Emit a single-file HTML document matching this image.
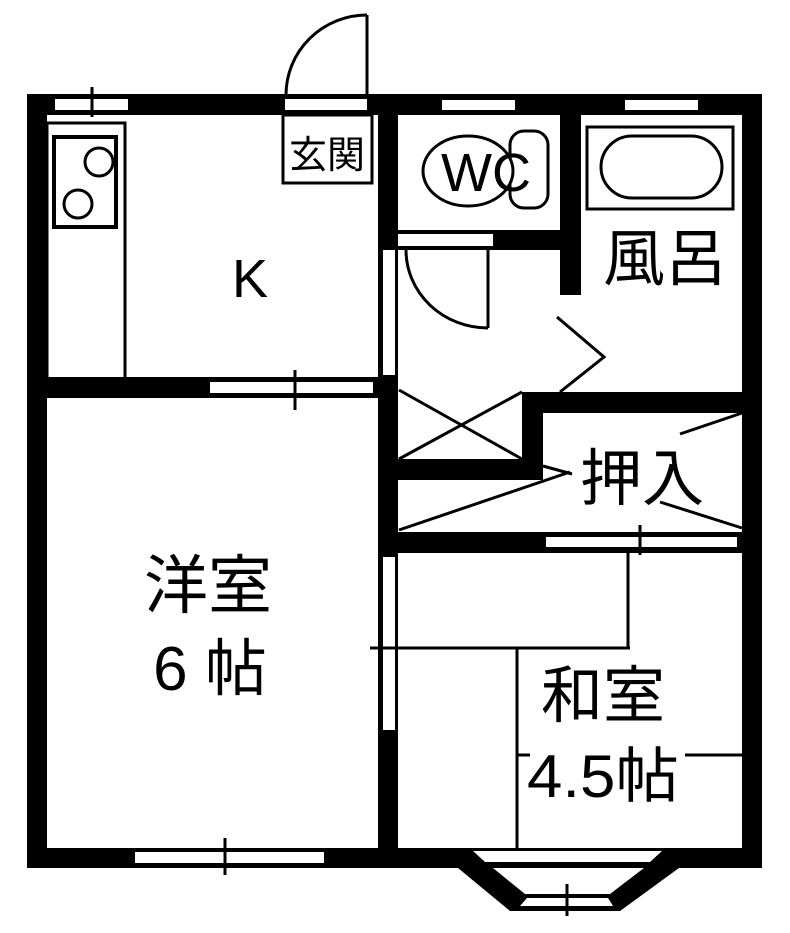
<!DOCTYPE html>
<html><head><meta charset="utf-8"><style>
html,body{margin:0;padding:0;background:#fff;width:790px;height:933px;overflow:hidden}
svg{display:block}
text{font-family:"Liberation Sans","Noto Sans CJK JP",sans-serif;fill:#000}
</style></head><body>
<svg width="790" height="933" viewBox="0 0 790 933" xmlns="http://www.w3.org/2000/svg">
<rect width="790" height="933" fill="#fff"/>
<rect x="27" y="94" width="735" height="21" fill="#000"/>
<rect x="27" y="94" width="20" height="774" fill="#000"/>
<rect x="742" y="94" width="20" height="774" fill="#000"/>
<rect x="27" y="848" width="735" height="20" fill="#000"/>
<rect x="378" y="94" width="20" height="774" fill="#000"/>
<rect x="27" y="377" width="371" height="21" fill="#000"/>
<rect x="55" y="99" width="73" height="11" fill="#fff"/>
<line x1="92" y1="87" x2="92" y2="117" stroke="#000" stroke-width="3"/>
<rect x="442" y="100" width="73" height="10" fill="#fff"/>
<rect x="625" y="100" width="73" height="10" fill="#fff"/>
<rect x="285" y="99" width="82" height="11" fill="#fff"/>
<line x1="367" y1="15" x2="367" y2="95" stroke="#000" stroke-width="3"/>
<path d="M367 15 A81 80 0 0 0 286 95" fill="none" stroke="#000" stroke-width="3"/>
<rect x="283" y="115" width="89" height="68" fill="#fff" stroke="#000" stroke-width="3"/>
<text x="327" y="168" font-size="38" text-anchor="middle">玄関</text>
<rect x="47" y="123" width="78" height="260" fill="none" stroke="#000" stroke-width="3"/>
<rect x="54" y="137" width="62" height="90" fill="none" stroke="#000" stroke-width="4"/>
<circle cx="99" cy="162" r="14" fill="none" stroke="#000" stroke-width="3"/>
<circle cx="78" cy="204" r="14" fill="none" stroke="#000" stroke-width="3"/>
<text x="250" y="297" font-size="54" text-anchor="middle">K</text>
<rect x="210" y="382" width="163" height="11" fill="#fff"/>
<line x1="295" y1="370" x2="295" y2="410" stroke="#000" stroke-width="3"/>
<rect x="383" y="250" width="12" height="125" fill="#fff"/>
<rect x="383" y="557" width="12" height="173" fill="#fff"/>
<line x1="370" y1="648" x2="630" y2="648" stroke="#000" stroke-width="3"/>
<rect x="398" y="230" width="183" height="20" fill="#000"/>
<rect x="398" y="234" width="95" height="12" fill="#fff"/>
<rect x="560" y="94" width="21" height="201" fill="#000"/>
<rect x="510" y="131" width="38" height="77" rx="14" fill="#fff" stroke="#000" stroke-width="3"/>
<ellipse cx="468" cy="171" rx="45" ry="35" fill="#fff" stroke="#000" stroke-width="3"/>
<text x="486" y="191" font-size="54" text-anchor="middle">WC</text>
<line x1="488" y1="250" x2="488" y2="328" stroke="#000" stroke-width="3"/>
<path d="M406 250 A82 78 0 0 0 488 328" fill="none" stroke="#000" stroke-width="3"/>
<rect x="587" y="127" width="146" height="82" fill="none" stroke="#000" stroke-width="3"/>
<rect x="601" y="136" width="121" height="62" rx="31" fill="none" stroke="#000" stroke-width="3"/>
<text x="665" y="280" font-size="62" text-anchor="middle">風呂</text>
<polyline points="557,317 604,357 560,392" fill="none" stroke="#000" stroke-width="3"/>
<rect x="522" y="392" width="240" height="21" fill="#000"/>
<rect x="522" y="392" width="21" height="88" fill="#000"/>
<rect x="398" y="459" width="145" height="21" fill="#000"/>
<rect x="378" y="532" width="384" height="21" fill="#000"/>
<rect x="546" y="537" width="191" height="10" fill="#fff"/>
<line x1="640" y1="525" x2="640" y2="555" stroke="#000" stroke-width="3"/>
<line x1="399" y1="390" x2="522" y2="459" stroke="#000" stroke-width="3"/>
<line x1="399" y1="459" x2="522" y2="392" stroke="#000" stroke-width="3"/>
<line x1="399" y1="530" x2="570" y2="472" stroke="#000" stroke-width="3"/>
<line x1="543" y1="466" x2="572" y2="474" stroke="#000" stroke-width="3"/>
<line x1="680" y1="434" x2="742" y2="413" stroke="#000" stroke-width="3"/>
<line x1="660" y1="502" x2="742" y2="528" stroke="#000" stroke-width="3"/>
<text x="642" y="500" font-size="62" text-anchor="middle">押入</text>
<line x1="628" y1="553" x2="628" y2="648" stroke="#000" stroke-width="3"/>
<line x1="517" y1="648" x2="517" y2="848" stroke="#000" stroke-width="3"/>
<line x1="517" y1="755" x2="530" y2="755" stroke="#000" stroke-width="3"/>
<line x1="685" y1="755" x2="742" y2="755" stroke="#000" stroke-width="3"/>
<text x="603" y="717" font-size="62" text-anchor="middle">和室</text>
<text x="603" y="797" font-size="60" text-anchor="middle" textLength="152" lengthAdjust="spacingAndGlyphs">4.5帖</text>
<text x="208" y="608" font-size="64" text-anchor="middle">洋室</text>
<text x="210" y="690" font-size="62" text-anchor="middle">6 帖</text>
<rect x="135" y="852" width="189" height="11" fill="#fff"/>
<line x1="225" y1="838" x2="225" y2="875" stroke="#000" stroke-width="3"/>
<polygon points="458,848 679,848 679,868 620,911 510,911 458,868" fill="#000"/>
<polygon points="473,851 662,851 650,862 485,862" fill="#fff"/>
<polygon points="493,868 644,868 610,894 525,894" fill="#fff"/>
<polygon points="527,898 608,898 613,906 520,906" fill="#fff"/>
<line x1="567" y1="884" x2="567" y2="916" stroke="#000" stroke-width="3"/>
</svg>
</body></html>
